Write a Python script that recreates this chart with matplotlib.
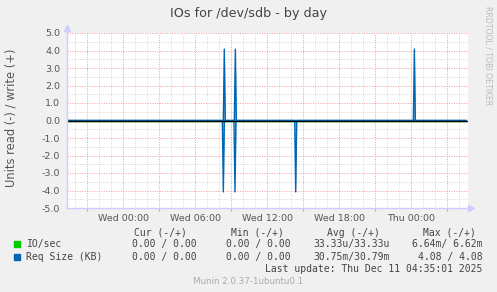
import matplotlib
matplotlib.use("Agg")
import matplotlib.pyplot as plt
import numpy as np

W, H = 497, 292

# time in hours relative to Wed 00:00
x_start, x_end = -4.67, 28.75
tick_pos = [0, 6, 12, 18, 24]
tick_labels = ["Wed 00:00", "Wed 06:00", "Wed 12:00", "Wed 18:00", "Thu 00:00"]

# spikes of Req Size (KB): write shown positive, read negative
write_spike_t = [8.44, 9.36, 24.28]
write_spike_v = [4.08, 4.08, 4.08]
read_spike_t = [8.36, 9.33, 14.39]
read_spike_v = [4.08, 4.08, 4.08]
last_t = 28.58

legend_names = ["IO/sec", "Req Size (KB)"]
legend_colors = ["#00cc00", "#0066b3"]
col_heads = ["Cur (-/+)", "Min (-/+)", "Avg (-/+)", "Max (-/+)"]
col_vals = [["0.00 / 0.00", "0.00 / 0.00", "33.33u/33.33u", "6.64m/ 6.62m"],
            ["0.00 / 0.00", "0.00 / 0.00", "30.75m/30.79m", "4.08 / 4.08"]]
last_update = "Last update: Thu Dec 11 04:35:01 2025"
version = "Munin 2.0.37-1ubuntu0.1"


def spike_series(ts, vs, sign):
    step = 5 / 60.0
    xs, ys = [x_start], [0.0]
    for t, v in sorted(zip(ts, vs)):
        xs += [t - step, t, t + step]
        ys += [0.0, sign * v, 0.0]
    xs.append(last_t)
    ys.append(0.0)
    return xs, ys


def fx(px):
    return px / W


def fy(py):
    return 1 - py / H


fig = plt.figure(figsize=(W / 100, H / 100), dpi=100)
fig.patch.set_facecolor("#f0f0f0")
ax = fig.add_axes([fx(67), fy(208), fx(468) - fx(67), fy(33) - fy(208)])
ax.set_facecolor("white")
ax.set_xlim(x_start, x_end)
ax.set_ylim(-5, 5)

# grid
dots = (0, (1, 1.5))
for h in np.arange(-4, 29, 1):
    if h % 3 == 0:
        continue
    ax.axvline(h, color="#d0d0d0", lw=0.6, ls=dots, zorder=1)
for y in np.arange(-4.5, 5, 1.0):
    ax.axhline(y, color="#d0d0d0", lw=0.6, ls=dots, zorder=1)
for h in np.arange(-3, 29, 3):
    ax.axvline(h, color="#f29a9a", lw=0.7, ls=dots, zorder=1)
for y in np.arange(-4, 6, 1.0):
    ax.axhline(y, color="#f29a9a", lw=0.7, ls=dots, zorder=1)

# series
ax.plot([x_start, last_t], [0, 0], color=legend_colors[0], lw=1, zorder=2)
wx, wy = spike_series(write_spike_t, write_spike_v, 1)
rx, ry = spike_series(read_spike_t, read_spike_v, -1)
for xs, ys in ((wx, wy), (rx, ry)):
    ax.fill_between(xs, ys, 0, color="#7fb2d9", lw=0, zorder=2)
    ax.plot(xs, ys, color=legend_colors[1], lw=1.0, zorder=3)
ax.axhline(0, color="black", lw=1.0, zorder=4)

for s in ax.spines.values():
    s.set_visible(False)
ax.plot([x_start, x_start], [-5, 5.25], color="#ccccff", lw=1, clip_on=False, zorder=5)
ax.plot([x_start, x_end + 0.2], [-5, -5], color="#ccccff", lw=1, clip_on=False, zorder=5)
ax.plot([x_start], [5.3], marker="^", color="#ccccff", ms=4, clip_on=False)
ax.plot([x_end + 0.25], [-5], marker=">", color="#ccccff", ms=4, clip_on=False)

ax.set_xticks(tick_pos)
ax.set_xticklabels(tick_labels)
ax.set_xticks(np.arange(-3, 29, 3), minor=True)
ax.set_yticks(np.arange(-5, 6, 1.0))
ax.set_yticklabels(["%.1f" % v for v in np.arange(-5, 6, 1.0)])
ax.tick_params(axis="both", which="major", length=0, labelsize=6.8, colors="#555555")
ax.tick_params(axis="y", pad=5)
ax.tick_params(axis="x", pad=4)
ax.tick_params(axis="x", which="minor", length=2, width=0.8, color="#f29a9a")
fig.text(fx(11), fy(118), "Units read (-) / write (+)", rotation=90, ha="center",
         va="center", fontsize=8.3, color="#555555")

fig.text(0.5, fy(14), "IOs for /dev/sdb - by day", ha="center", va="center",
         fontsize=9.2, color="#444444")
fig.text(fx(488), fy(56), "RRDTOOL / TOBI OETIKER", rotation=270, ha="center",
         va="center", fontsize=5.6, color="#bbbbbb")

mono = "DejaVu Sans Mono"
head_right = [187, 284, 380, 476]
val_right = [197, 291, 390, 483]
for x, t in zip(head_right, col_heads):
    fig.text(fx(x), fy(232.7), t, ha="right", va="center", family=mono,
             fontsize=7, color="#444444")
for i, (name, c) in enumerate(zip(legend_names, legend_colors)):
    yy = 244.3 + i * 12.5
    fig.patches.append(plt.Rectangle((fx(14), fy(yy + 3)), fx(6), 6 / H,
                                     transform=fig.transFigure, color=c))
    fig.text(fx(26.5), fy(yy), name, ha="left", va="center", family=mono,
             fontsize=7, color="#444444")
    for x, v in zip(val_right, col_vals[i]):
        fig.text(fx(x), fy(yy), v, ha="right", va="center", family=mono,
                 fontsize=7, color="#444444")
fig.text(fx(482), fy(269), last_update, ha="right", va="center", family=mono,
         fontsize=7, color="#444444")
fig.text(fx(248), fy(281), version, ha="center", va="center", fontsize=6.3,
         color="#aaaaaa")

fig.savefig("out.png", dpi=100, facecolor=fig.get_facecolor())
